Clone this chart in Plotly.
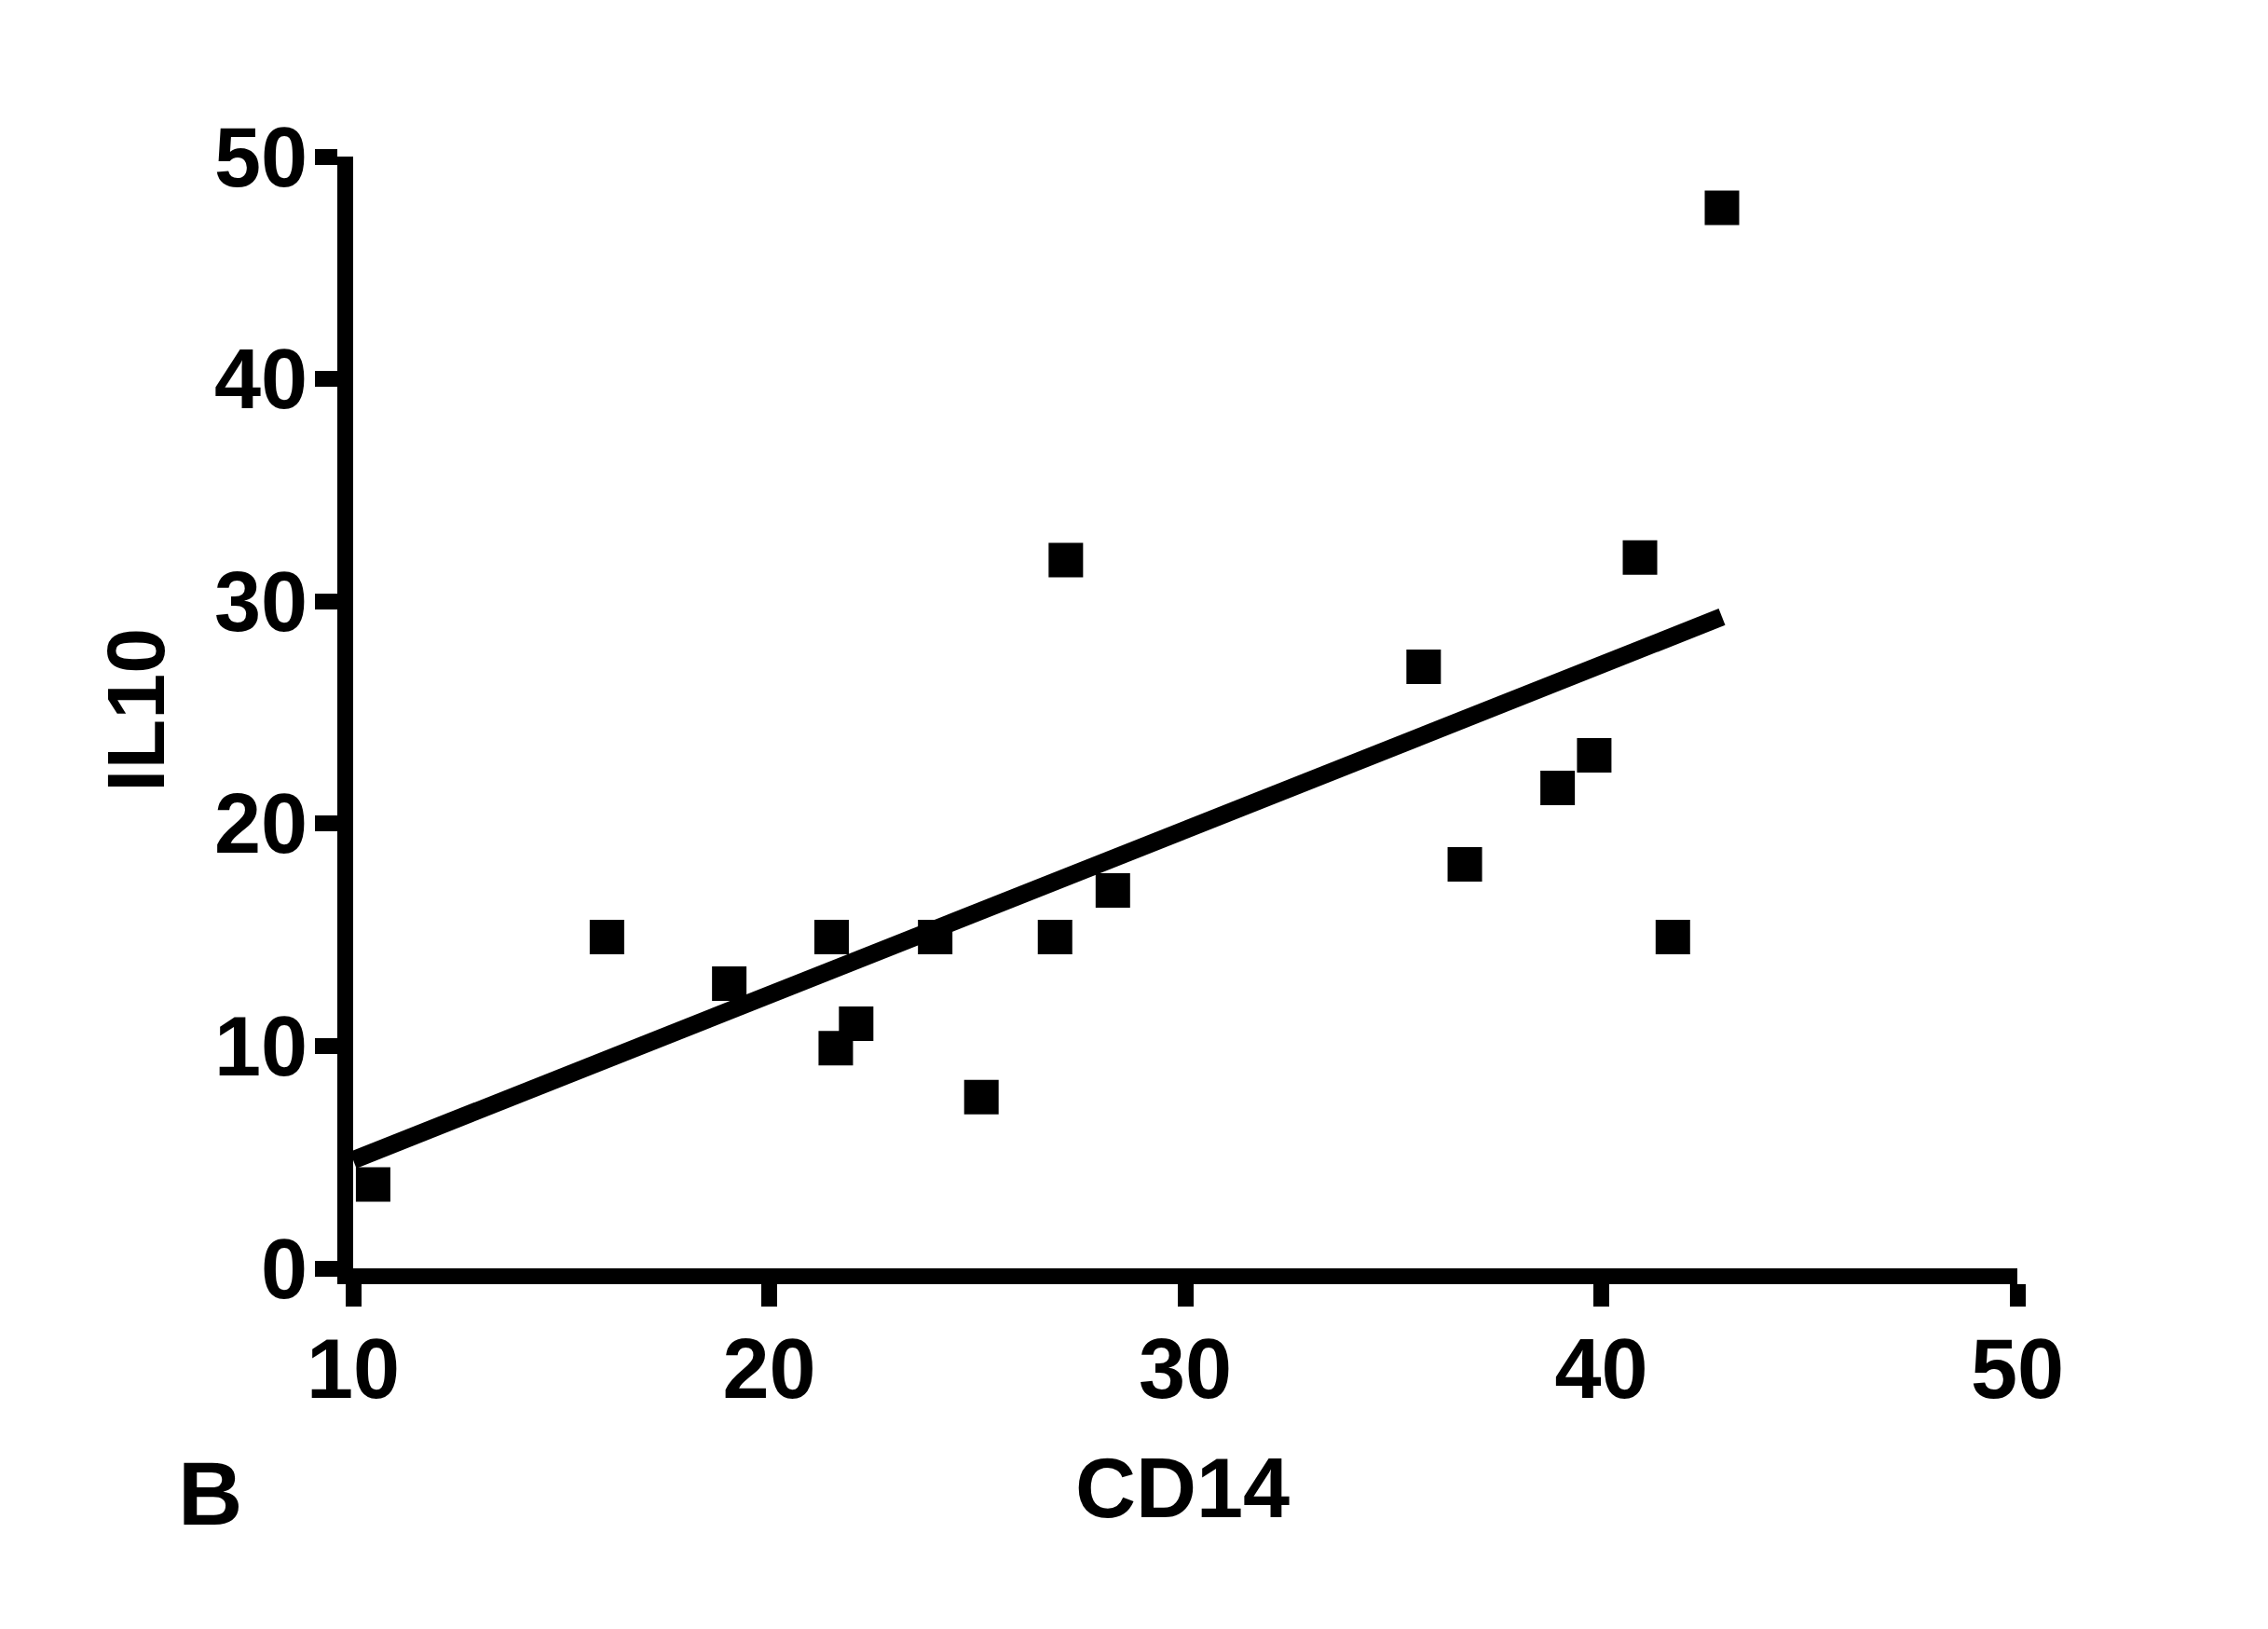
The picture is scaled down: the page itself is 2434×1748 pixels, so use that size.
"""
IL10 vs CD14 散点图 + 线性回归线（panel B）
"""

import plotly.graph_objects as go

# ── 数据 ─────────────────────────────────────────────────────────────────────

cd14 = [10.48, 16.1, 19.04, 21.5, 21.6, 22.09, 23.99, 25.1, 26.87,
        27.13, 28.26, 35.73, 36.72, 38.95, 39.83, 40.93, 41.72, 42.9]
il10 = [3.77, 14.9, 12.8, 14.9, 9.9, 11.0, 14.9, 7.7, 14.9,
        31.85, 17.0, 27.05, 18.17, 21.6, 23.07, 31.97, 14.9, 47.7]

# 回归线两端
fit_x = [10.0, 42.9]
fit_y = [4.87, 29.3]

x_ticks = [10, 20, 30, 40, 50]
y_ticks = [0, 10, 20, 30, 40, 50]

# ── 图 ───────────────────────────────────────────────────────────────────────

FONT = "Liberation Sans, Arial, sans-serif"
W, H = 2434, 1748
PAGE = 8  # body margin of the html page
L, R, T, B = 379 - PAGE, 269 + PAGE, 168 - PAGE, 387 + PAGE


def px(xp, yp):
    """页面像素 -> paper 坐标"""
    xp, yp = xp - PAGE, yp - PAGE
    return (xp - L) / (W - L - R), (H - B - yp) / (H - T - B)


fig = go.Figure()

fig.add_trace(go.Scatter(
    x=cd14, y=il10,
    mode="markers",
    marker=dict(symbol="square", size=37, color="black", line=dict(width=0)),
    cliponaxis=False,
    showlegend=False,
))

fig.add_trace(go.Scatter(
    x=fit_x, y=fit_y,
    mode="lines",
    line=dict(color="black", width=19),
    cliponaxis=False,
    showlegend=False,
))

axis_common = dict(
    showgrid=False, zeroline=False,
    showline=True, linecolor="black", linewidth=17,
    ticks="outside", ticklen=24, tickwidth=17, tickcolor="black",
    ticklabelstandoff=-10,
    tickfont=dict(family=FONT, size=90, color="black", weight="bold"),
)

cx, cy = px(1269, 1597)
ix, iy = px(145, 762)
bx, by = px(225, 1602)

fig.update_layout(
    width=W, height=H,
    margin=dict(l=L, r=R, t=T, b=B),
    paper_bgcolor="white",
    plot_bgcolor="white",
    xaxis=dict(range=[10, 50], tickvals=x_ticks, **axis_common),
    yaxis=dict(range=[0, 50], tickvals=y_ticks, **axis_common),
    annotations=[
        dict(text="<b>CD14</b>", xref="paper", yref="paper", x=cx, y=cy,
             showarrow=False, xanchor="center", yanchor="middle",
             font=dict(family=FONT, size=90, color="black")),
        dict(text="<b>IL10</b>", xref="paper", yref="paper", x=ix, y=iy,
             textangle=-90,
             showarrow=False, xanchor="center", yanchor="middle",
             font=dict(family=FONT, size=88, color="black")),
        dict(text="<b>B</b>", xref="paper", yref="paper", x=bx, y=by,
             showarrow=False, xanchor="center", yanchor="middle",
             font=dict(family=FONT, size=96, color="black")),
    ],
)

fig.write_html("out.html")
